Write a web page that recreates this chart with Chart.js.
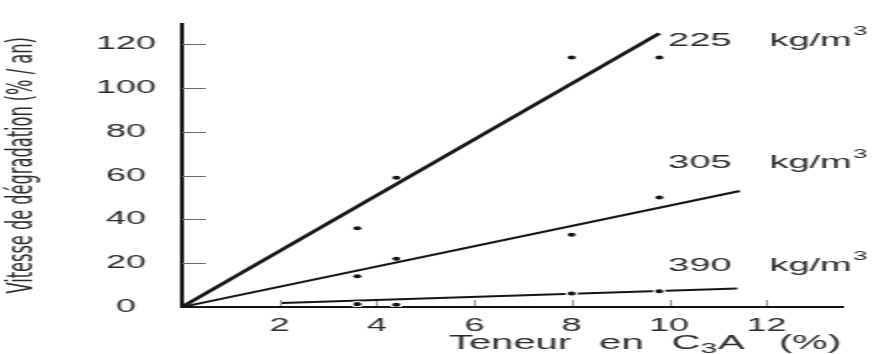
<!DOCTYPE html>
<html>
<head>
<meta charset="utf-8">
<title>Vitesse de dégradation</title>
<style>
  html, body { margin: 0; padding: 0; background: #fff; overflow: hidden; }
  /* drawn on a half-width bitmap and widened by CSS, like the scanned print */
  #chart { display: block; width: 888px !important; height: 354px !important; }
</style>
<script src="https://cdn.jsdelivr.net/npm/chart.js@4/dist/chart.umd.min.js"></script>
</head>
<body>
<canvas id="chart" width="444" height="354" style="width:888px;height:354px"></canvas>
<script>
// C3A content of the tested cements (%)
const c3aContent = [3.6, 4.4, 8.0, 9.8];
// measured degradation rate (% / an) for each cement dosage
const rate225 = [36, 59, 114, 114];
const rate305 = [14, 22, 33, 50];
const rate390 = [1.3, 1.0, 6.2, 7.2];
// fitted straight lines: [start, end]
const fit225X = [0, 9.8];   const fit225Y = [0, 125];
const fit305X = [0, 11.45]; const fit305Y = [0, 53];
const fit390X = [2.05, 11.4]; const fit390Y = [1.8, 8.5];
// axes
const xTickValues = [2, 4, 6, 8, 10, 12];
const yTickValues = [0, 20, 40, 60, 80, 100, 120];
const dosageNames = ['225', '305', '390'];

const INK = '#151515';
const TEXT = '#2b2b2b';
const FONT = "'Liberation Sans', Arial, Helvetica, sans-serif";

const pts = (xs, ys) => xs.map((v, i) => ({ x: v, y: ys[i] }));

function fitLine(xs, ys, width) {
  return {
    type: 'line', data: pts(xs, ys), showLine: true,
    borderColor: INK, borderWidth: width, pointRadius: 0, fill: false, order: 2
  };
}
function observations(ys, ring) {
  return {
    type: 'scatter', data: pts(c3aContent, ys), showLine: false,
    pointRadius: ring ? 2.6 : 2, pointBackgroundColor: INK,
    pointBorderColor: ring ? '#ffffff' : INK, pointBorderWidth: ring ? 1.1 : 0,
    pointHoverRadius: 2, order: 1
  };
}

// short inner tick marks on both axes
const innerTicks = {
  id: 'innerTicks',
  beforeDatasetsDraw(chart) {
    const { ctx, chartArea: a, scales: { x, y } } = chart;
    ctx.save();
    ctx.strokeStyle = '#6a6a6a';
    ctx.lineWidth = 1;
    y.ticks.forEach(t => {
      if (t.value === 0) return;
      const py = Math.round(y.getPixelForValue(t.value)) + 0.5;
      ctx.beginPath(); ctx.moveTo(a.left, py); ctx.lineTo(a.left + 12, py); ctx.stroke();
    });
    ctx.strokeStyle = '#9a9a9a';
    x.ticks.forEach(t => {
      const px = Math.round(x.getPixelForValue(t.value)) + 0.5;
      ctx.beginPath(); ctx.moveTo(px, a.bottom - 1); ctx.lineTo(px, a.bottom - 7); ctx.stroke();
    });
    ctx.restore();
  }
};

// dosage names at the right end of each line, and the x-axis title with its subscript
const annotations = {
  id: 'annotations',
  afterDraw(chart) {
    const { ctx, scales: { x, y } } = chart;
    ctx.save();
    ctx.fillStyle = TEXT;
    ctx.textBaseline = 'middle';
    ctx.textAlign = 'left';
    const labelYs = [121.8, 65.8, 18.8];
    const lx = x.getPixelForValue(9.98);
    dosageNames.forEach((name, i) => {
      const py = y.getPixelForValue(labelYs[i]);
      ctx.font = '19px ' + FONT;
      ctx.fillText(name, lx, py);
      let cx = lx + ctx.measureText(name).width + 19;
      ctx.fillText('kg/m', cx, py);
      cx += ctx.measureText('kg/m').width + 0.5;
      ctx.font = '13px ' + FONT;
      ctx.fillText('3', cx, py - 9);
    });

    // "Teneur en C3A (%)"
    const parts = [
      { t: 'Teneur', s: 20, dy: 0, gap: 14 },
      { t: 'en', s: 20, dy: 0, gap: 14 },
      { t: 'C', s: 20, dy: 0, gap: 0 },
      { t: '3', s: 15, dy: 6, gap: 0.5 },
      { t: 'A', s: 20, dy: 0, gap: 17 },
      { t: '(%)', s: 20, dy: 0, gap: 0 }
    ];
    let total = 0;
    parts.forEach(p => { ctx.font = p.s + 'px ' + FONT; p.w = ctx.measureText(p.t).width; total += p.w + p.gap; });
    let tx = 322.5 - total / 2;
    const ty = 343;
    parts.forEach(p => {
      ctx.font = p.s + 'px ' + FONT;
      ctx.fillText(p.t, tx, ty + p.dy);
      tx += p.w + p.gap;
    });
    ctx.restore();
  }
};

new Chart(document.getElementById('chart'), {
  data: {
    datasets: [
      fitLine(fit225X, fit225Y, 2.6),
      fitLine(fit305X, fit305Y, 2),
      fitLine(fit390X, fit390Y, 2),
      observations(rate225, false),
      observations(rate305, false),
      observations(rate390, true)
    ]
  },
  options: {
    responsive: false,
    animation: false,
    devicePixelRatio: 1,
    events: [],
    layout: { padding: { top: 18, right: 22.5, left: 0, bottom: 0 } },
    plugins: { legend: { display: false }, tooltip: { enabled: false }, title: { display: false } },
    scales: {
      x: {
        type: 'linear', min: 0, max: 13.57,
        afterBuildTicks: s => { s.ticks = xTickValues.map(v => ({ value: v })); },
        afterFit: s => { s.height = 47; },
        grid: { display: false, drawTicks: false },
        border: { display: true, color: INK, width: 2 },
        ticks: { color: TEXT, padding: 8, maxRotation: 0, font: { family: FONT, size: 18 } },
        title: { display: false }
      },
      y: {
        type: 'linear', min: 0, max: 129.4,
        afterBuildTicks: s => { s.ticks = yTickValues.map(v => ({ value: v })); },
        afterFit: s => { s.width = 91; },
        grid: { display: false, drawTicks: false },
        border: { display: true, color: INK, width: 2 },
        ticks: { color: TEXT, padding: 13, crossAlign: 'center', font: { family: FONT, size: 18 } },
        title: {
          display: true,
          text: 'Vitesse de dégradation (% / an)',
          color: TEXT,
          padding: { top: 2, bottom: 0 },
          font: { family: "'Liberation Sans Narrow', 'DejaVu Sans Condensed', Arial, sans-serif", size: 18, lineHeight: 1 }
        }
      }
    }
  },
  plugins: [innerTicks, annotations]
});
</script>
</body>
</html>
